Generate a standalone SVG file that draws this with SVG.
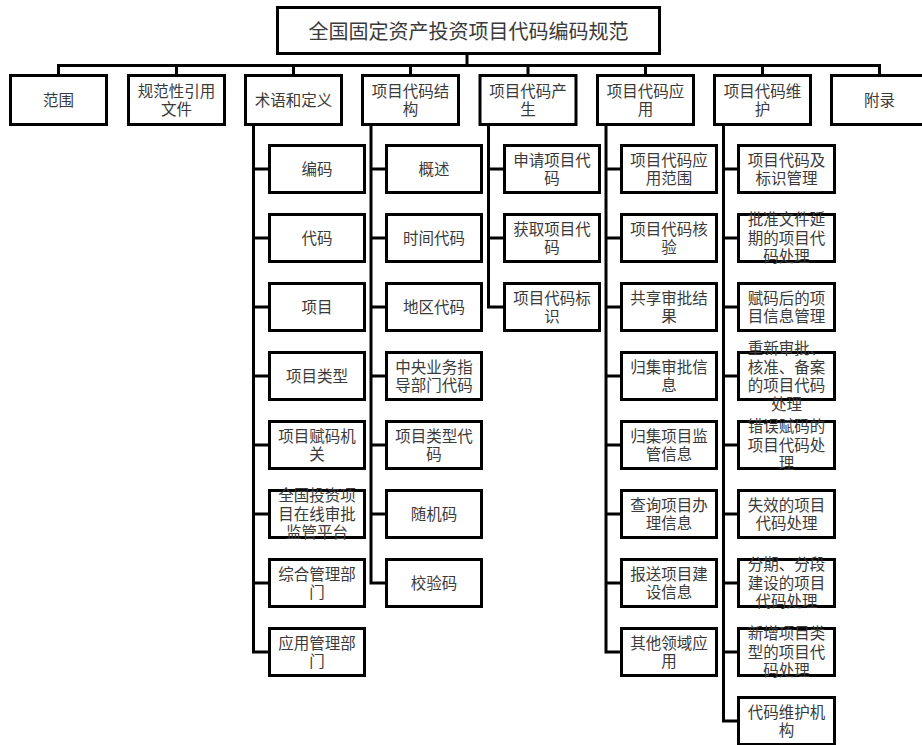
<svg xmlns="http://www.w3.org/2000/svg" width="922" height="745" viewBox="0 0 922 745">
<style>
.b{fill:#fff;stroke:#000;stroke-width:3}
.c{fill:none;stroke:#000;stroke-width:3}
text{font-family:"Noto Sans CJK SC","Liberation Sans",sans-serif;font-size:15.5px;fill:#3a3a3a;text-anchor:middle}
.t{font-size:20px}
</style>
<rect width="922" height="745" fill="#fff"/>
<g id="connectors">
<path class="c" d="M467 55V65.5M58.5 65.5H880M58.5 64V75.5M176.5 65.5V75.5M293.5 65.5V75.5M410.5 65.5V75.5M528 65.5V75.5M645.5 65.5V75.5M762.5 65.5V75.5M879.5 64V75.5"/>
<path class="c" d="M253.5 124V652M253.5 169H269.5M253.5 238H269.5M253.5 307H269.5M253.5 376H269.5M253.5 445H269.5M253.5 514H269.5M253.5 583H269.5M252 652H269.5"/>
<path class="c" d="M371 124V583M371 169H386.5M371 238H386.5M371 307H386.5M371 376H386.5M371 445H386.5M371 514H386.5M369.5 583H386.5"/>
<path class="c" d="M488.5 124V307M488.5 169H504.5M488.5 238H504.5M487 307H504.5"/>
<path class="c" d="M606 124V652M606 169H621.5M606 238H621.5M606 307H621.5M606 376H621.5M606 445H621.5M606 514H621.5M606 583H621.5M604.5 652H621.5"/>
<path class="c" d="M723.5 124V721M723.5 169H738.5M723.5 238H738.5M723.5 307H738.5M723.5 376H738.5M723.5 445H738.5M723.5 514H738.5M723.5 583H738.5M723.5 652H738.5M722 721H738.5"/>
</g>
<g id="root"><rect class="b" x="277.5" y="7.5" width="382" height="46"/><text class="t" x="468.5" y="38.6">全国固定资产投资项目代码编码规范</text></g>
<g id="n1"><rect class="b" x="10.5" y="75.5" width="96" height="49"/><text x="58.5" y="105.9">范围</text></g>
<g id="n2"><rect class="b" x="128.5" y="75.5" width="96" height="49"/><text x="176.5" y="96.6">规范性引用<tspan x="176.5" dy="18.5">文件</tspan></text></g>
<g id="n3"><rect class="b" x="245.5" y="75.5" width="96" height="49"/><text x="293.5" y="105.9">术语和定义</text></g>
<g id="n4"><rect class="b" x="362.5" y="75.5" width="96" height="49"/><text x="410.5" y="96.6">项目代码结<tspan x="410.5" dy="18.5">构</tspan></text></g>
<g id="n5"><rect class="b" x="480" y="75.5" width="96" height="49"/><text x="528" y="96.6">项目代码产<tspan x="528" dy="18.5">生</tspan></text></g>
<g id="n6"><rect class="b" x="597.5" y="75.5" width="96" height="49"/><text x="645.5" y="96.6">项目代码应<tspan x="645.5" dy="18.5">用</tspan></text></g>
<g id="n7"><rect class="b" x="714.5" y="75.5" width="96" height="49"/><text x="762.5" y="96.6">项目代码维<tspan x="762.5" dy="18.5">护</tspan></text></g>
<g id="n8"><rect class="b" x="831.5" y="75.5" width="96" height="49"/><text x="879.5" y="105.9">附录</text></g>

<g id="n3_1"><rect class="b" x="269.5" y="145.5" width="95" height="47"/><text x="317" y="174.9">编码</text></g>
<g id="n3_2"><rect class="b" x="269.5" y="214.5" width="95" height="47"/><text x="317" y="243.9">代码</text></g>
<g id="n3_3"><rect class="b" x="269.5" y="283.5" width="95" height="47"/><text x="317" y="312.9">项目</text></g>
<g id="n3_4"><rect class="b" x="269.5" y="352.5" width="95" height="47"/><text x="317" y="381.9">项目类型</text></g>
<g id="n3_5"><rect class="b" x="269.5" y="421.5" width="95" height="47"/><text x="317" y="441.65">项目赋码机<tspan x="317" dy="18.5">关</tspan></text></g>
<g id="n3_6"><rect class="b" x="269.5" y="490.5" width="95" height="47"/><text x="317" y="501.4">全国投资项<tspan x="317" dy="18.5">目在线审批</tspan><tspan x="317" dy="18.5">监管平台</tspan></text></g>
<g id="n3_7"><rect class="b" x="269.5" y="559.5" width="95" height="47"/><text x="317" y="579.65">综合管理部<tspan x="317" dy="18.5">门</tspan></text></g>
<g id="n3_8"><rect class="b" x="269.5" y="628.5" width="95" height="47"/><text x="317" y="648.65">应用管理部<tspan x="317" dy="18.5">门</tspan></text></g>

<g id="n4_1"><rect class="b" x="386.5" y="145.5" width="95" height="47"/><text x="434" y="174.9">概述</text></g>
<g id="n4_2"><rect class="b" x="386.5" y="214.5" width="95" height="47"/><text x="434" y="243.9">时间代码</text></g>
<g id="n4_3"><rect class="b" x="386.5" y="283.5" width="95" height="47"/><text x="434" y="312.9">地区代码</text></g>
<g id="n4_4"><rect class="b" x="386.5" y="352.5" width="95" height="47"/><text x="434" y="372.65">中央业务指<tspan x="434" dy="18.5">导部门代码</tspan></text></g>
<g id="n4_5"><rect class="b" x="386.5" y="421.5" width="95" height="47"/><text x="434" y="441.65">项目类型代<tspan x="434" dy="18.5">码</tspan></text></g>
<g id="n4_6"><rect class="b" x="386.5" y="490.5" width="95" height="47"/><text x="434" y="519.9">随机码</text></g>
<g id="n4_7"><rect class="b" x="386.5" y="559.5" width="95" height="47"/><text x="434" y="588.9">校验码</text></g>

<g id="n5_1"><rect class="b" x="504.5" y="145.5" width="95" height="47"/><text x="552" y="165.65">申请项目代<tspan x="552" dy="18.5">码</tspan></text></g>
<g id="n5_2"><rect class="b" x="504.5" y="214.5" width="95" height="47"/><text x="552" y="234.65">获取项目代<tspan x="552" dy="18.5">码</tspan></text></g>
<g id="n5_3"><rect class="b" x="504.5" y="283.5" width="95" height="47"/><text x="552" y="303.65">项目代码标<tspan x="552" dy="18.5">识</tspan></text></g>

<g id="n6_1"><rect class="b" x="621.5" y="145.5" width="95" height="47"/><text x="669" y="165.65">项目代码应<tspan x="669" dy="18.5">用范围</tspan></text></g>
<g id="n6_2"><rect class="b" x="621.5" y="214.5" width="95" height="47"/><text x="669" y="234.65">项目代码核<tspan x="669" dy="18.5">验</tspan></text></g>
<g id="n6_3"><rect class="b" x="621.5" y="283.5" width="95" height="47"/><text x="669" y="303.65">共享审批结<tspan x="669" dy="18.5">果</tspan></text></g>
<g id="n6_4"><rect class="b" x="621.5" y="352.5" width="95" height="47"/><text x="669" y="372.65">归集审批信<tspan x="669" dy="18.5">息</tspan></text></g>
<g id="n6_5"><rect class="b" x="621.5" y="421.5" width="95" height="47"/><text x="669" y="441.65">归集项目监<tspan x="669" dy="18.5">管信息</tspan></text></g>
<g id="n6_6"><rect class="b" x="621.5" y="490.5" width="95" height="47"/><text x="669" y="510.65">查询项目办<tspan x="669" dy="18.5">理信息</tspan></text></g>
<g id="n6_7"><rect class="b" x="621.5" y="559.5" width="95" height="47"/><text x="669" y="579.65">报送项目建<tspan x="669" dy="18.5">设信息</tspan></text></g>
<g id="n6_8"><rect class="b" x="621.5" y="628.5" width="95" height="47"/><text x="669" y="648.65">其他领域应<tspan x="669" dy="18.5">用</tspan></text></g>

<g id="n7_1"><rect class="b" x="738.5" y="145.5" width="96" height="47"/><text x="786.5" y="165.65">项目代码及<tspan x="786.5" dy="18.5">标识管理</tspan></text></g>
<g id="n7_2"><rect class="b" x="738.5" y="214.5" width="96" height="47"/><text x="786.5" y="225.4">批准文件延<tspan x="786.5" dy="18.5">期的项目代</tspan><tspan x="786.5" dy="18.5">码处理</tspan></text></g>
<g id="n7_3"><rect class="b" x="738.5" y="283.5" width="96" height="47"/><text x="786.5" y="303.65">赋码后的项<tspan x="786.5" dy="18.5">目信息管理</tspan></text></g>
<g id="n7_4"><rect class="b" x="738.5" y="352.5" width="96" height="47"/><text x="786.5" y="354.15">重新审批、<tspan x="786.5" dy="18.5">核准、备案</tspan><tspan x="786.5" dy="18.5">的项目代码</tspan><tspan x="786.5" dy="18.5">处理</tspan></text></g>
<g id="n7_5"><rect class="b" x="738.5" y="421.5" width="96" height="47"/><text x="786.5" y="432.4">错误赋码的<tspan x="786.5" dy="18.5">项目代码处</tspan><tspan x="786.5" dy="18.5">理</tspan></text></g>
<g id="n7_6"><rect class="b" x="738.5" y="490.5" width="96" height="47"/><text x="786.5" y="510.65">失效的项目<tspan x="786.5" dy="18.5">代码处理</tspan></text></g>
<g id="n7_7"><rect class="b" x="738.5" y="559.5" width="96" height="47"/><text x="786.5" y="570.4">分期、分段<tspan x="786.5" dy="18.5">建设的项目</tspan><tspan x="786.5" dy="18.5">代码处理</tspan></text></g>
<g id="n7_8"><rect class="b" x="738.5" y="628.5" width="96" height="47"/><text x="786.5" y="639.4">新增项目类<tspan x="786.5" dy="18.5">型的项目代</tspan><tspan x="786.5" dy="18.5">码处理</tspan></text></g>
<g id="n7_9"><rect class="b" x="738.5" y="697.5" width="96" height="47"/><text x="786.5" y="717.65">代码维护机<tspan x="786.5" dy="18.5">构</tspan></text></g>
</svg>
